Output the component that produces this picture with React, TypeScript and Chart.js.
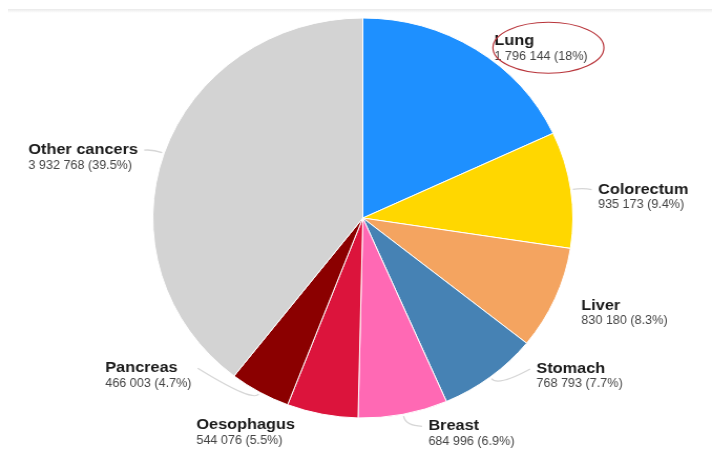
import React, { useEffect, useRef } from "react";
import { Chart, registerables } from "chart.js";

Chart.register(...registerables);

// ---- data ----
const CATEGORIES = ["Lung", "Colorectum", "Liver", "Stomach", "Breast", "Oesophagus", "Pancreas", "Other cancers"];
const DEATHS = [1796144, 935173, 830180, 768793, 684996, 544076, 466003, 3932768];
const COLORS = ["#1E90FF", "#FFD700", "#F4A460", "#4682B4", "#FF69B4", "#DC143C", "#8B0000", "#D3D3D3"];

// ---- layout (label placement relative to each slice's outer edge, intrinsic px) ----
const LABEL_NUDGE: [number, number][] = [
  [18, -4], [26, 4], [25, 11], [44, -4], [24, 16], [-26, 15], [-65, -20], [-25, 1],
];
const SHOW_LEADER = [false, true, false, true, true, false, true, true];
const HIGHLIGHT_INDEX = 0;

const CANVAS_W = 678; // drawn stretched to 712px (source image is slightly wider than tall)
const CANVAS_H = 450;
const NAME_FONT = 'bold 15.5px "Liberation Sans", Arial, sans-serif';
const VALUE_FONT = '12px "Liberation Sans", Arial, sans-serif';

function fmtNum(n: number): string {
  return String(n).replace(/\B(?=(\d{3})+(?!\d))/g, " ");
}
function fmtPct(p: number): string {
  return p.toFixed(1).replace(/\.0$/, "") + "%";
}

const labelPlugin = {
  id: "pieLabels",
  afterDatasetsDraw(chart: any) {
    const ctx = chart.ctx as CanvasRenderingContext2D;
    const meta = chart.getDatasetMeta(0);
    const total = DEATHS.reduce((a, b) => a + b, 0);
    ctx.save();
    meta.data.forEach((arc: any, i: number) => {
      const { x, y, startAngle, endAngle, outerRadius } = arc.getProps(
        ["x", "y", "startAngle", "endAngle", "outerRadius"], true);
      const mid = (startAngle + endAngle) / 2;
      const c = Math.cos(mid), s = Math.sin(mid);
      const ex = x + c * outerRadius, ey = y + s * outerRadius;
      const right = c >= 0;
      const name = CATEGORIES[i];
      const value = `${fmtNum(DEATHS[i])} (${fmtPct((DEATHS[i] / total) * 100)})`;
      ctx.font = NAME_FONT;
      const wName = ctx.measureText(name).width;
      ctx.font = VALUE_FONT;
      const wVal = ctx.measureText(value).width;
      const w = Math.max(wName, wVal);
      const [dx, dy] = LABEL_NUDGE[i];
      const left = right ? ex + dx : ex + dx - w;
      const base = ey + dy;

      if (SHOW_LEADER[i]) {
        const sx = x + c * (outerRadius + 2), sy = y + s * (outerRadius + 2);
        const cx1 = x + c * (outerRadius + 12), cy1 = y + s * (outerRadius + 12);
        const lx = right ? left - 6 : left + w + 6;
        const ly = base - 4;
        ctx.strokeStyle = "#d6d6d6";
        ctx.lineWidth = 1.3;
        ctx.beginPath();
        ctx.moveTo(sx, sy);
        ctx.quadraticCurveTo(cx1, cy1, lx, ly);
        ctx.stroke();
      }

      ctx.textAlign = "left";
      ctx.textBaseline = "alphabetic";
      ctx.fillStyle = "#1a1a1a";
      ctx.font = NAME_FONT;
      ctx.fillText(name, left, base);
      ctx.fillStyle = "#444444";
      ctx.font = VALUE_FONT;
      ctx.fillText(value, left, base + 14.5);

      if (i === HIGHLIGHT_INDEX) {
        ctx.strokeStyle = "#b8343a";
        ctx.lineWidth = 1.2;
        ctx.beginPath();
        ctx.ellipse(left + w / 2 + 7, base + 2.5, w / 2 + 8.5, 25.5, 0, 0, Math.PI * 2);
        ctx.stroke();
      }
    });
    ctx.restore();
  },
};

export default function App() {
  const ref = useRef<HTMLCanvasElement>(null);
  useEffect(() => {
    if (!ref.current) return;
    const chart = new Chart(ref.current, {
      type: "pie",
      data: {
        labels: CATEGORIES,
        datasets: [{
          data: DEATHS,
          backgroundColor: COLORS,
          borderColor: "#ffffff",
          borderWidth: 1,
          hoverOffset: 0,
          radius: 200,
        } as any],
      },
      options: {
        responsive: false,
        animation: false,
        devicePixelRatio: 1,
        layout: { padding: { left: 145.5, right: 132.5, top: 18, bottom: 32 } },
        plugins: { legend: { display: false }, tooltip: { enabled: false }, title: { display: false } },
        events: [],
      } as any,
      plugins: [labelPlugin],
    });
    return () => chart.destroy();
  }, []);
  return (
    <div style={{ position: "fixed", left: 0, top: 0, width: 712, height: 450, background: "#fff", overflow: "hidden" }}>
      <div style={{ position: "absolute", left: 8, right: 0, top: 9, height: 4, background: "linear-gradient(#e9e9e9, #ffffff)" }} />
      <canvas
        ref={ref}
        width={CANVAS_W}
        height={CANVAS_H}
        style={{ position: "absolute", left: 0, top: 0, width: 712, height: 450 }}
      />
    </div>
  );
}
